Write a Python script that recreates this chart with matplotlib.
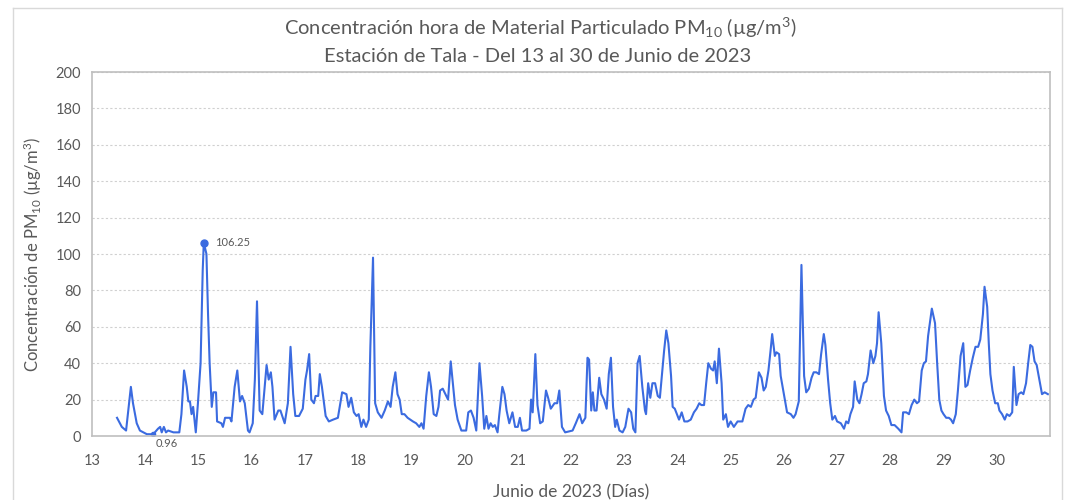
import matplotlib
matplotlib.use("Agg")
import matplotlib.pyplot as plt
from matplotlib.lines import Line2D

plt.rcParams['font.family'] = ['Lato', 'DejaVu Sans']
plt.rcParams['mathtext.default'] = 'regular'

# Dia (fraccion del mes) y concentracion horaria PM10 (ug/m3)
dias = [
    13.47, 13.56, 13.64, 13.73, 13.77, 13.84, 13.90, 14.03, 14.15, 14.24, 14.28, 14.31, 14.35, 14.39,
    14.43, 14.53, 14.64, 14.68, 14.73, 14.78, 14.81, 14.84, 14.87, 14.90, 14.95, 14.99, 15.04, 15.08,
    15.10, 15.15, 15.18, 15.21, 15.25, 15.28, 15.33, 15.35, 15.43, 15.46, 15.50, 15.59, 15.62, 15.68,
    15.73, 15.78, 15.82, 15.87, 15.93, 15.96, 16.02, 16.06, 16.10, 16.15, 16.20, 16.28, 16.32, 16.36,
    16.39, 16.43, 16.50, 16.54, 16.62, 16.68, 16.73, 16.78, 16.82, 16.89, 16.96, 17.01, 17.04, 17.08,
    17.12, 17.17, 17.20, 17.25, 17.28, 17.32, 17.39, 17.45, 17.53, 17.62, 17.70, 17.78, 17.82, 17.87,
    17.92, 17.97, 18.01, 18.06, 18.10, 18.15, 18.20, 18.23, 18.28, 18.32, 18.37, 18.44, 18.50, 18.56,
    18.61, 18.65, 18.70, 18.74, 18.78, 18.82, 18.87, 18.93, 19.03, 19.09, 19.15, 19.19, 19.23, 19.28,
    19.33, 19.37, 19.42, 19.47, 19.51, 19.54, 19.59, 19.64, 19.69, 19.74, 19.78, 19.82, 19.87, 19.94,
    20.03, 20.07, 20.12, 20.17, 20.22, 20.28, 20.33, 20.37, 20.41, 20.45, 20.49, 20.53, 20.57, 20.62,
    20.65, 20.71, 20.75, 20.79, 20.84, 20.90, 20.95, 21.00, 21.04, 21.08, 21.16, 21.22, 21.25, 21.28,
    21.33, 21.37, 21.42, 21.47, 21.53, 21.57, 21.62, 21.69, 21.74, 21.78, 21.83, 21.89, 22.03, 22.09,
    22.16, 22.21, 22.27, 22.31, 22.34, 22.38, 22.41, 22.44, 22.48, 22.53, 22.57, 22.62, 22.67, 22.71,
    22.75, 22.79, 22.83, 22.86, 22.91, 22.97, 23.02, 23.08, 23.13, 23.17, 23.21, 23.25, 23.29, 23.34,
    23.39, 23.41, 23.45, 23.49, 23.53, 23.58, 23.63, 23.67, 23.71, 23.75, 23.79, 23.83, 23.88, 23.91,
    23.95, 23.99, 24.03, 24.08, 24.13, 24.19, 24.25, 24.31, 24.36, 24.41, 24.45, 24.50, 24.54, 24.58,
    24.63, 24.67, 24.70, 24.74, 24.78, 24.83, 24.86, 24.91, 24.95, 25.00, 25.06, 25.13, 25.22, 25.28,
    25.33, 25.38, 25.43, 25.47, 25.53, 25.58, 25.62, 25.66, 25.71, 25.75, 25.78, 25.83, 25.86, 25.91,
    25.94, 26.00, 26.06, 26.13, 26.18, 26.22, 26.28, 26.33, 26.38, 26.42, 26.47, 26.52, 26.56, 26.61,
    26.66, 26.70, 26.75, 26.78, 26.83, 26.87, 26.91, 26.96, 27.00, 27.07, 27.13, 27.17, 27.21, 27.25,
    27.30, 27.33, 27.38, 27.42, 27.46, 27.50, 27.55, 27.58, 27.63, 27.68, 27.72, 27.75, 27.78, 27.83,
    27.88, 27.92, 27.97, 28.02, 28.08, 28.15, 28.21, 28.24, 28.30, 28.35, 28.40, 28.45, 28.50, 28.54,
    28.59, 28.63, 28.67, 28.71, 28.78, 28.84, 28.88, 28.92, 28.96, 29.00, 29.05, 29.10, 29.14, 29.18,
    29.23, 29.27, 29.32, 29.37, 29.41, 29.45, 29.50, 29.55, 29.60, 29.65, 29.69, 29.74, 29.77, 29.82,
    29.85, 29.88, 29.92, 29.97, 30.02, 30.05, 30.10, 30.15, 30.19, 30.24, 30.29, 30.32, 30.37, 30.41,
    30.46, 30.50, 30.55, 30.59, 30.63, 30.67, 30.71, 30.75, 30.80, 30.85, 30.90, 30.96,
]
pm10 = [
    10, 5, 3, 27, 18, 7, 3, 1, 0.96, 4, 5, 2, 5, 2,
    3, 2, 2, 12, 36, 27, 19, 19, 12, 16, 2, 18, 40, 91,
    106.25, 100, 67, 40, 16, 24, 24, 8, 7, 5, 10, 10, 8, 27,
    36, 19, 22, 18, 3, 2, 7, 31, 74, 14, 12, 39, 31, 35,
    27, 9, 14, 14, 7, 18, 49, 23, 11, 11, 15, 31, 36, 45,
    20, 18, 22, 22, 34, 27, 11, 8, 9, 10, 24, 23, 16, 21,
    13, 11, 12, 5, 9, 5, 9, 49, 98, 18, 13, 10, 14, 19,
    16, 27, 35, 23, 20, 12, 12, 10, 8, 7, 5, 7, 4, 22,
    35, 27, 12, 11, 16, 25, 26, 23, 20, 41, 29, 17, 9, 3,
    3, 13, 14, 10, 3, 40, 22, 4, 11, 4, 7, 5, 6, 2,
    11, 27, 23, 14, 7, 13, 5, 5, 10, 3, 3, 4, 20, 13,
    45, 17, 7, 8, 25, 21, 15, 18, 18, 25, 5, 2, 3, 7,
    12, 7, 10, 43, 42, 14, 24, 14, 14, 32, 23, 20, 15, 34,
    43, 16, 5, 9, 3, 2, 5, 15, 13, 4, 2, 40, 44, 27,
    14, 12, 29, 21, 29, 29, 22, 21, 34, 47, 58, 51, 33, 16,
    15, 12, 9, 13, 8, 8, 9, 13, 15, 18, 17, 17, 29, 40,
    37, 36, 41, 29, 48, 29, 9, 12, 5, 8, 5, 8, 8, 15,
    17, 16, 20, 21, 35, 32, 25, 27, 36, 47, 56, 44, 46, 45,
    33, 23, 13, 12, 10, 12, 19, 94, 33, 24, 26, 32, 35, 35,
    34, 45, 56, 50, 31, 18, 9, 11, 8, 7, 4, 8, 7, 12,
    16, 30, 20, 18, 23, 29, 30, 34, 47, 40, 44, 51, 68, 51,
    22, 14, 11, 6, 6, 4, 2, 13, 13, 12, 17, 20, 18, 19,
    36, 40, 41, 55, 70, 62, 40, 20, 14, 12, 10, 10, 9, 7,
    12, 25, 44, 51, 27, 28, 36, 43, 49, 49, 53, 67, 82, 71,
    51, 34, 25, 18, 18, 14, 12, 9, 12, 11, 13, 38, 17, 23,
    24, 23, 29, 40, 50, 49, 41, 39, 31, 23, 24, 23,
]

dia_max, valor_max = 15.10, 106.25
dia_min, valor_min = 14.15, 0.96

y_ticks = list(range(0, 201, 20))
x_ticks = list(range(13, 31))

azul = '#3B6BE0'
gris_txt = '#595959'
gris_eje = '#BFBFBF'

fig = plt.figure(figsize=(10.65, 5.0), dpi=100)
ax = fig.add_axes([0.0864, 0.128, 0.8995, 0.728])

ax.plot(dias, pm10, color=azul, linewidth=1.5)
ax.plot([dia_max], [valor_max], 'o', color=azul, markersize=5)
ax.plot([dia_min], [valor_min], 'o', color=azul, markersize=3)
ax.annotate(f"{valor_max:.2f}", (dia_max, valor_max), xytext=(8, 0),
            textcoords='offset points', va='center', ha='left', fontsize=8, color=gris_txt)
ax.annotate(f"{valor_min:.2f}", (dia_min, valor_min), xytext=(2, -7),
            textcoords='offset points', va='center', ha='left', fontsize=8, color=gris_txt)

ax.set_xlim(13, 31)
ax.set_ylim(0, 200)
ax.set_xticks(x_ticks)
ax.set_yticks(y_ticks)
ax.tick_params(axis='both', length=0, labelsize=10.5, colors=gris_txt, pad=8)
ax.tick_params(axis='x', pad=13)
ax.grid(axis='y', color='#D0D0D0', linestyle=(0, (2, 2)), linewidth=0.8)
ax.set_axisbelow(True)
for s in ax.spines.values():
    s.set_color(gris_eje)
    s.set_linewidth(1.2)

ax.set_ylabel('Concentración de PM$_{10}$ (µg/m$^3$)', fontsize=12, color=gris_txt, labelpad=8)
ax.set_xlabel('Junio de 2023 (Días)', fontsize=12.5, color=gris_txt, labelpad=12)

fig.text(0.507, 0.945, 'Concentración hora de Material Particulado PM$_{10}$ (µg/m$^3$)',
         ha='center', va='center', fontsize=14.5, color=gris_txt)
fig.text(0.505, 0.888, 'Estación de Tala - Del 13 al 30 de Junio de 2023',
         ha='center', va='center', fontsize=14.5, color=gris_txt)

# marco exterior del grafico
x0, x1, y1 = 13 / 1065, 1062 / 1065, 1 - 8 / 500
for xs, ys in [([x0, x0], [0, y1]), ([x0, x1], [y1, y1]), ([x1, x1], [0, y1])]:
    fig.add_artist(Line2D(xs, ys, color='#D9D9D9', linewidth=1, transform=fig.transFigure))

fig.savefig('out.png', dpi=100)
